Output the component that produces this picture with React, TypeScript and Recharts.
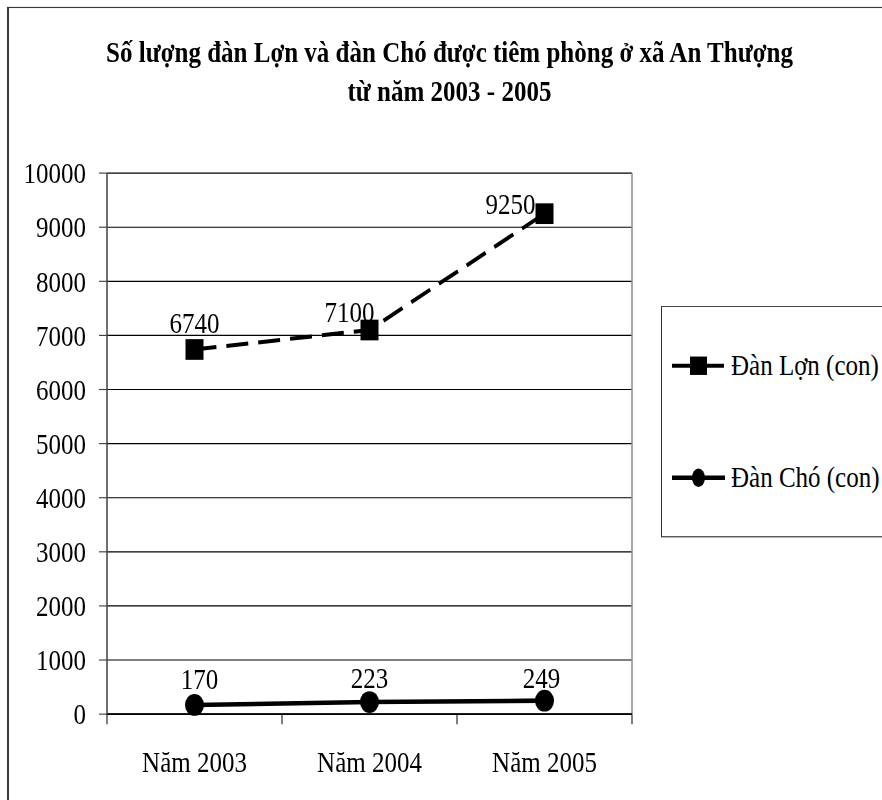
import React from 'react';
import { LineChart, Line, XAxis, YAxis, CartesianGrid, Legend } from 'recharts';

const TITLE_LINES = ['Số lượng đàn Lợn và đàn Chó được tiêm phòng ở xã An Thượng', 'từ năm 2003 - 2005'];
const YEARS = ['Năm 2003', 'Năm 2004', 'Năm 2005'];
const PIGS = [6740, 7100, 9250];
const DOGS = [170, 223, 249];
const Y_TICKS = [0, 1000, 2000, 3000, 4000, 5000, 6000, 7000, 8000, 9000, 10000];
const SERIES_NAMES = ['Đàn Lợn (con)', 'Đàn Chó (con)'];

// label nudges (style only): [dx, dy] relative to the point
const PIG_LABEL_SHIFT = [[0, -14], [-20, -7], [-34, 0]];
const DOG_LABEL_SHIFT = [[5, -14], [0, -12], [-3, -11]];

const data = YEARS.map((year, i) => ({ year, pigs: PIGS[i], dogs: DOGS[i] }));

const FONT = '"Liberation Serif", "Times New Roman", serif';
const W = 882;
const H = 696;
const SY = 800 / H;
const PLOT_W = 525;
const HALF_BAND = PLOT_W / YEARS.length / 2;

const squareDot = (p: any) => (
  <rect key={`sq-${p.index}`} x={p.cx - 9} y={p.cy - 9} width={18} height={18} fill="#000" />
);
const circleDot = (p: any) => (
  <circle key={`ci-${p.index}`} cx={p.cx} cy={p.cy} r={9.5} fill="#000" />
);

const makeLabel = (shift: number[][]) => (p: any) => {
  const x = p.x ?? p.viewBox?.x;
  const y = p.y ?? p.viewBox?.y;
  const s = shift[p.index] || [0, -12];
  return (
    <text key={`lb-${p.index}`} x={x + s[0]} y={y + s[1]} textAnchor="middle" fontSize={25} fontFamily={FONT} fill="#000">
      {p.value}
    </text>
  );
};

const XTick = (props: any) => {
  const { x, y, payload, index, visibleTicksCount } = props;
  const count = visibleTicksCount || YEARS.length;
  const half = HALF_BAND;
  const axisY = y - 20;
  const tl = 8.7;
  return (
    <g>
      <line x1={x - half} x2={x - half} y1={axisY} y2={axisY + tl} stroke="#000" strokeWidth={1} />
      {index === count - 1 && (
        <line x1={x + half} x2={x + half} y1={axisY} y2={axisY + tl} stroke="#000" strokeWidth={1} />
      )}
      <text x={x} y={axisY + 50.6} textAnchor="middle" fontSize={25} fontFamily={FONT} fill="#000">
        {payload.value}
      </text>
    </g>
  );
};

const LegendBox = (props: any) => {
  const payload = [...(props.payload || [])].sort(
    (a: any, b: any) => SERIES_NAMES.indexOf(a.value) - SERIES_NAMES.indexOf(b.value)
  );
  return (
    <svg width={240} height={202} style={{ display: 'block', overflow: 'hidden' }}>
      <rect x={0.5} y={0.5} width={280} height={200.5} fill="#fff" stroke="#333" strokeWidth={1} />
      {payload.map((item: any, i: number) => {
        const cy = 52.2 + i * 97.5;
        const isPig = item.dataKey === 'pigs' || item.value === SERIES_NAMES[0];
        return (
          <g key={`lg-${i}`}>
            <line
              x1={11}
              x2={64}
              y1={cy}
              y2={cy}
              stroke="#000"
              strokeWidth={isPig ? 3.5 : 4}
              strokeDasharray={isPig ? '20 12' : undefined}
            />
            {isPig ? (
              <rect x={29} y={cy - 8} width={17} height={16} fill="#000" />
            ) : (
              <ellipse cx={37.5} cy={cy} rx={6.5} ry={8} fill="#000" />
            )}
            <text x={70} y={cy + 8} fontSize={25} fontFamily={FONT} fill="#000">
              {item.value}
            </text>
          </g>
        );
      })}
    </svg>
  );
};

export default function App() {
  return (
    <div style={{ position: 'absolute', left: 0, top: 0, width: W, height: 800, overflow: 'hidden', background: '#fff' }}>
      <div style={{ position: 'absolute', left: 0, top: 0, width: W, height: H, transform: `scaleY(${SY})`, transformOrigin: '0 0' }}>
        <div
          style={{
            position: 'absolute',
            left: 7,
            top: 6.1,
            width: 1000,
            height: 1000,
            borderLeft: '2px solid #3a3a3a',
            borderTop: '1.7px solid #3a3a3a',
          }}
        />
        <div style={{ position: 'absolute', left: 0, top: 0 }}>
          <LineChart width={W} height={H} data={data} margin={{ top: 150.6, right: 250, bottom: 34.7, left: 7 }}>
            <CartesianGrid vertical={false} stroke="#000" strokeWidth={1} />
            <CartesianGrid
              horizontal={false}
              stroke="#8c8c8c"
              strokeWidth={1.5}
              verticalCoordinatesGenerator={(a: any) => [
                (a?.offset?.left ?? 107) + (a?.offset?.width ?? PLOT_W),
              ]}
            />
            <XAxis
              dataKey="year"
              height={40}
              interval={0}
              padding={{ left: HALF_BAND, right: HALF_BAND }}
              tickLine={false}
              tickSize={0}
              tickMargin={20}
              axisLine={{ stroke: '#000', strokeWidth: 1.5 }}
              tick={(p: any) => <XTick {...p} />}
            />
            <YAxis
              domain={[0, 10000]}
              ticks={Y_TICKS}
              interval={0}
              width={100}
              tickSize={8}
              tickMargin={13}
              axisLine={{ stroke: '#404040', strokeWidth: 1.5 }}
              tickLine={{ stroke: '#404040', strokeWidth: 1 }}
              tick={{ fill: '#000', fontSize: 25, fontFamily: FONT }}
            />
            <Legend
              layout="vertical"
              align="center"
              verticalAlign="middle"
              wrapperStyle={{ left: 661, top: 266.3, width: 240, height: 202 }}
              content={(p: any) => <LegendBox {...p} />}
            />
            <Line
              name={SERIES_NAMES[0]}
              dataKey="pigs"
              type="linear"
              stroke="#000"
              strokeWidth={3.5}
              strokeDasharray="22 10"
              dot={squareDot}
              activeDot={false}
              label={makeLabel(PIG_LABEL_SHIFT)}
              isAnimationActive={false}
            />
            <Line
              name={SERIES_NAMES[1]}
              dataKey="dogs"
              type="linear"
              stroke="#000"
              strokeWidth={4}
              dot={circleDot}
              activeDot={false}
              label={makeLabel(DOG_LABEL_SHIFT)}
              isAnimationActive={false}
            />
          </LineChart>
        </div>
        <div
          style={{
            position: 'absolute',
            left: 0,
            top: 28.6,
            width: 899,
            textAlign: 'center',
            fontFamily: FONT,
            fontWeight: 'bold',
            fontSize: 25,
            lineHeight: '34px',
            color: '#000',
            whiteSpace: 'nowrap',
          }}
        >
          {TITLE_LINES.map((t, i) => (
            <div key={i}>{t}</div>
          ))}
        </div>
      </div>
    </div>
  );
}
